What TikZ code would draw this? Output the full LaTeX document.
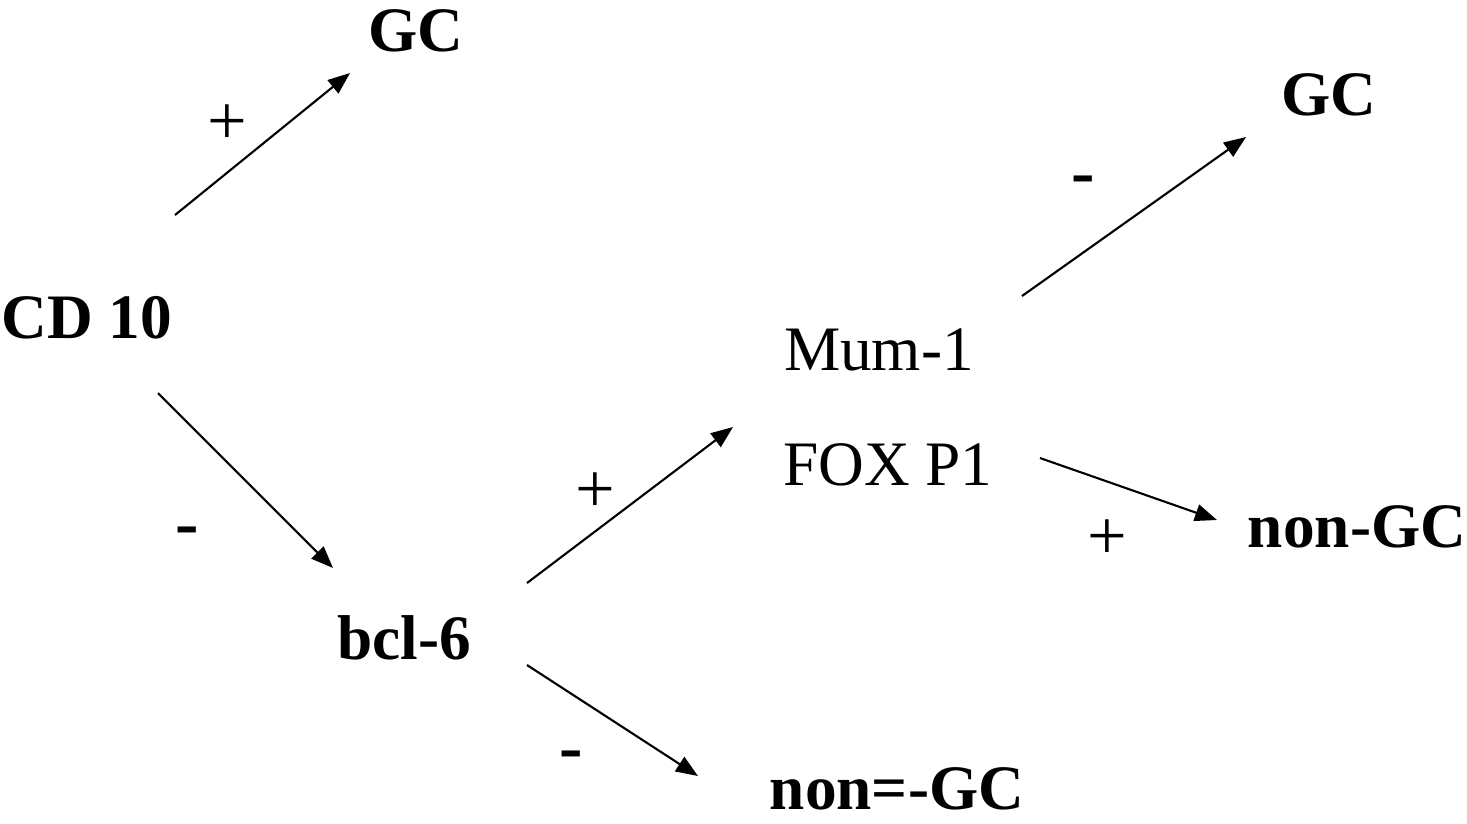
\documentclass[tikz,border=0pt]{standalone}
\usepackage{fontspec}
\setmainfont{Liberation Serif}
\usetikzlibrary{arrows.meta}

\begin{document}
\begin{tikzpicture}
	[x=0.01cm, y=-0.01cm,
	every node/.style={inner sep=0pt, font=\fontsize{18}{21}\selectfont\bfseries},
	plain/.style={font=\fontsize{18}{21}\selectfont},
	sign/.style={font=\fontsize{20}{23}\selectfont},
	minus/.style={font=\fontsize{20}{23}\selectfont\bfseries},
	arr/.style={line width=0.6pt, -{Triangle[length=0.22cm, width=0.17cm]}}]
		\useasboundingbox (0,0) rectangle (1467,823);
		% nodes
		\node(cd) at (87,318){CD 10};
		\node(gc1) at (416,31){GC};
		\node(bcl) at (404,638){bcl-6};
		\node[plain](mum) at (879,350){Mum-1};
		\node[plain](fox) at (888,465){FOX P1};
		\node(gc2) at (1329,95){GC};
		\node(ngc1) at (1357,527){non-GC};
		\node(ngc2) at (897,789){non=-GC};
		% signs
		\node[sign](s1) at (227,125){+};
		\node[minus](s2) at (187,537){-};
		\node[sign](s3) at (595,493){+};
		\node[minus](s4) at (571,761){-};
		\node[minus](s5) at (1083,186){-};
		\node[sign](s6) at (1107,540){+};
		% arrow ends
		\coordinate(a1) at (175,215); \coordinate(b1) at (350,73);
		\coordinate(a2) at (158,393); \coordinate(b2) at (333,568);
		\coordinate(a3) at (527,583); \coordinate(b3) at (733,427);
		\coordinate(a4) at (527,665); \coordinate(b4) at (698,776);
		\coordinate(a5) at (1022,296); \coordinate(b5) at (1246,137);
		\coordinate(a6) at (1040,458); \coordinate(b6) at (1217,520);
		\draw[arr](a1) to (b1);
		\draw[arr](a2) to (b2);
		\draw[arr](a3) to (b3);
		\draw[arr](a4) to (b4);
		\draw[arr](a5) to (b5);
		\draw[arr](a6) to (b6);
	\end{tikzpicture}
\end{document}
